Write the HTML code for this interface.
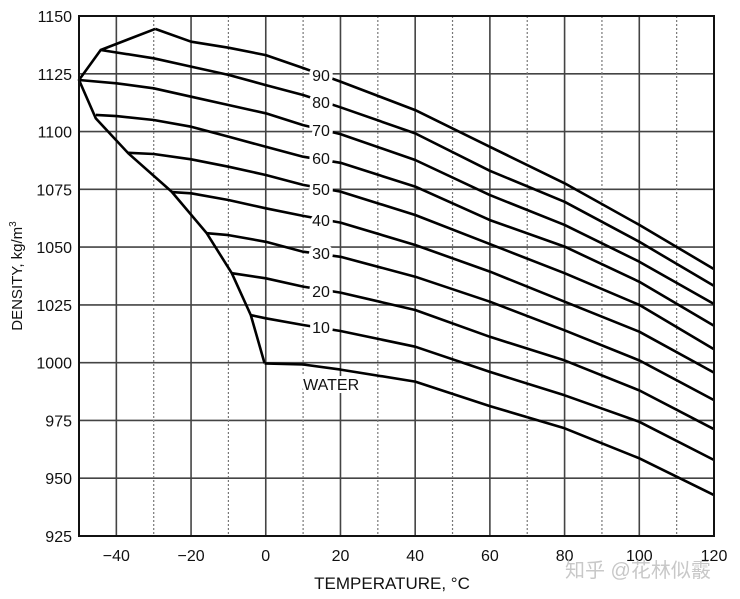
<!DOCTYPE html>
<html><head><meta charset="utf-8"><style>
html,body{margin:0;padding:0;background:#fff;width:740px;height:599px;overflow:hidden}
svg{display:block}
text{font-family:"Liberation Sans Narrow","Liberation Sans",sans-serif;fill:#111}
</style></head><body>
<svg id="chart" width="740" height="599" viewBox="0 0 740 599" xmlns="http://www.w3.org/2000/svg">
<g id="grid"></g>
<g id="curves"></g>
<g id="labels"></g>
<g id="axes"></g>
<text x="392" y="589" text-anchor="middle" font-size="17">TEMPERATURE, °C</text>
<text transform="translate(22,276) rotate(-90)" text-anchor="middle" font-size="15">DENSITY, kg/m<tspan font-size="10" dy="-6">3</tspan></text>
<text x="565" y="577" font-size="20" style="fill:#c8c8c8;font-family:'Liberation Sans','Noto Sans CJK SC',sans-serif">知乎 @花林似霰</text>
</svg>
<script>
const xTicks=[-40,-20,0,20,40,60,80,100,120];
const xMinor=[-30,-10,10,30,50,70,90,110];
const yTicks=[925,950,975,1000,1025,1050,1075,1100,1125,1150];
const seriesNames=["90","80","70","60","50","40","30","20","10","WATER"];
const s90T=[-29.6,-20,-10,0,10,20,40,60,80,100,120];
const s90D=[1144.4,1138.9,1136.3,1133.1,1127.5,1121.6,1109.3,1093.4,1077.6,1059.6,1040.5];
const s80T=[-44.2,-30,-20,-10,0,10,20,40,60,80,100,120];
const s80D=[1135.3,1131.7,1128.1,1124.5,1120.1,1115.8,1110.5,1099.2,1083,1069.6,1052.3,1033.2];
const s70T=[-50,-40,-30,-20,-10,0,10,20,40,60,80,100,120];
const s70D=[1122.3,1120.9,1118.7,1115.1,1111.5,1107.9,1102.8,1098.9,1087.7,1072.5,1059.6,1043.7,1025.4];
const s60T=[-45.5,-40,-30,-20,-10,0,10,20,40,60,80,100,120];
const s60D=[1107.2,1106.7,1105,1102.1,1097.8,1093.4,1089.1,1086.5,1076.2,1061.7,1050.2,1035,1016];
const s50T=[-36.8,-30,-20,-10,0,10,20,40,60,80,100,120];
const s50D=[1090.8,1090.3,1088,1084.8,1081.2,1076.9,1074,1063.9,1051.3,1038.7,1025,1005.8];
const s40T=[-25.2,-20,-10,0,10,20,40,60,80,100,120];
const s40D=[1073.8,1073.3,1070.4,1066.8,1063.5,1060.6,1050.9,1039.4,1026.4,1013.4,995.7];
const s30T=[-15.8,-10,0,10,20,40,60,80,100,120];
const s30D=[1056,1055.2,1052.3,1048,1045.8,1037.2,1026.4,1014,1001,983.8];
const s20T=[-9.1,0,10,20,40,60,80,100,120];
const s20D=[1038.7,1036.5,1032.9,1030.3,1022.8,1011.2,1001,988,971.2];
const s10T=[-4,0,10,20,40,60,80,100,120];
const s10D=[1020.6,1019.2,1016.3,1013.7,1006.9,996,985.9,974.4,957.9];
const sWT=[-0.3,10,20,40,60,80,100,120];
const sWD=[999.7,999.2,997,991.8,981.2,971.6,958.6,942.7];
const boundT=[-29.6,-44.2,-50,-45.5,-36.8,-25.2,-15.8,-9.1,-4,-0.3];
const boundD=[1144.4,1135.3,1122.3,1105.7,1090.6,1074,1056,1038.7,1020.6,999.7];
const labelD=[1124.5,1112.7,1100.6,1088.5,1075.1,1061.7,1047.4,1031,1015.4];

const X0=79,X1=714,Y0=16,Y1=536,TMIN=-50,TMAX=120,DMIN=925,DMAX=1150;
const sx=t=>X0+(t-TMIN)/(TMAX-TMIN)*(X1-X0);
const sy=d=>Y1-(d-DMIN)/(DMAX-DMIN)*(Y1-Y0);
const NS="http://www.w3.org/2000/svg";
function mk(tag,parent,attrs){const e=document.createElementNS(NS,tag);for(const k in attrs)e.setAttribute(k,attrs[k]);parent.appendChild(e);return e;}
const grid=document.getElementById('grid'),axes=document.getElementById('axes'),curves=document.getElementById('curves'),labels=document.getElementById('labels');
yTicks.forEach(v=>{
  const l=mk('line',grid,{x1:X0,x2:X1,y1:sy(v),y2:sy(v),stroke:'#444','stroke-width':1.6});
  
  
  const t=mk('text',axes,{x:72,y:sy(v)+6,'text-anchor':'end','font-size':16});
  t.textContent=v;
  
  
});
xTicks.forEach(v=>{
  const l=mk('line',grid,{x1:sx(v),x2:sx(v),y1:Y0,y2:Y1,stroke:'#444','stroke-width':1.6});
  
  
  const t=mk('text',axes,{x:sx(v),y:561,'text-anchor':'middle','font-size':16});
  t.textContent=v<0?'\u2212'+Math.abs(v):v;
  
  
});
xMinor.forEach(v=>{
  const l=mk('line',grid,{x1:sx(v),x2:sx(v),y1:Y0,y2:Y1,stroke:'#777','stroke-width':1.2,'stroke-dasharray':'2,2'});
  
  
});
const border=mk('rect',axes,{x:X0,y:Y0,width:X1-X0,height:Y1-Y0,fill:'none',stroke:'#111','stroke-width':2});


const allT=[s90T,s80T,s70T,s60T,s50T,s40T,s30T,s20T,s10T,sWT];
const allD=[s90D,s80D,s70D,s60D,s50D,s40D,s30D,s20D,s10D,sWD];
function pathOf(T,D){return T.map((t,i)=>(i?'L':'M')+sx(t).toFixed(1)+','+sy(D[i]).toFixed(1)).join(' ');}
allT.forEach((T,i)=>{
  const p=mk('path',curves,{d:pathOf(T,allD[i]),fill:'none',stroke:'#000','stroke-width':2.6,'stroke-linejoin':'round'});
  
  
});
const b=mk('path',curves,{d:pathOf(boundT,boundD),fill:'none',stroke:'#000','stroke-width':2.6,'stroke-linejoin':'round'});


labelD.forEach((d,i)=>{
  const t=mk('text',labels,{x:sx(14.8),y:sy(d)+6,'text-anchor':'middle','font-size':16,stroke:'#fff','stroke-width':7,'paint-order':'stroke'});
  t.textContent=seriesNames[i];
  
  
});
const w=mk('text',labels,{x:sx(17.5),y:390,'text-anchor':'middle','font-size':16,stroke:'#fff','stroke-width':6,'paint-order':'stroke'});
w.textContent='WATER';


</script>
</body></html>
